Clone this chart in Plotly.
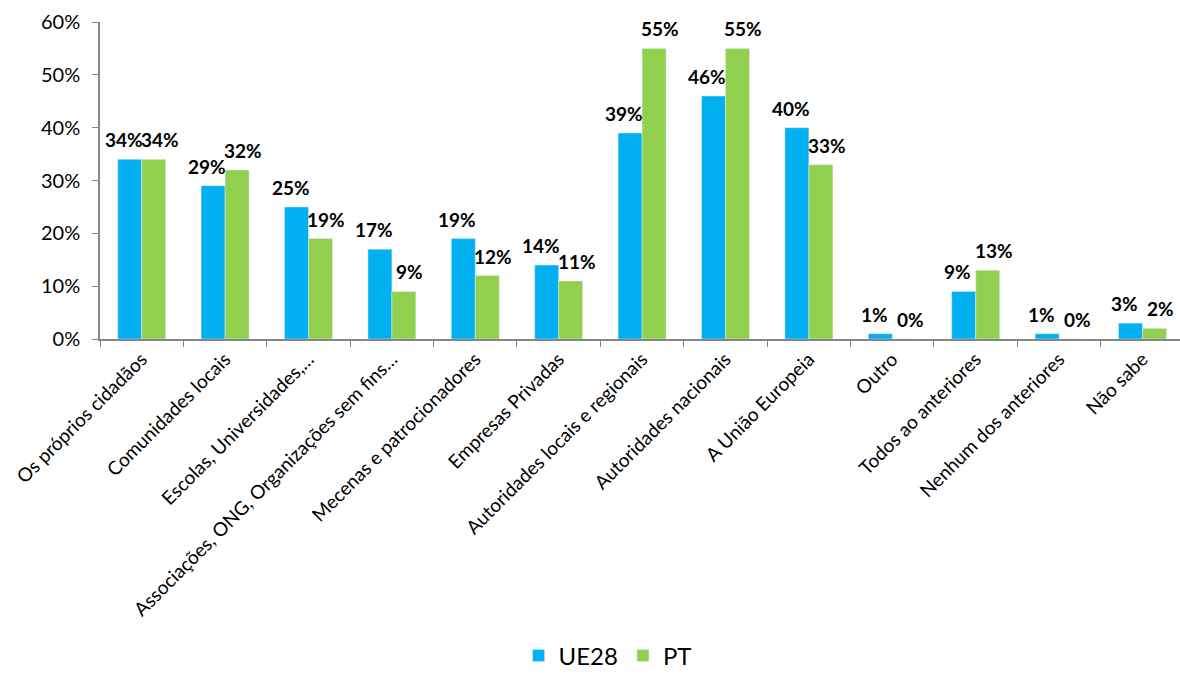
import plotly.graph_objects as go

categories = [
    "Os próprios cidadãos",
    "Comunidades locais",
    "Escolas, Universidades,…",
    "Associações, ONG, Organizações sem fins…",
    "Mecenas e patrocionadores",
    "Empresas Privadas",
    "Autoridades locais e regionais",
    "Autoridades nacionais",
    "A União Europeia",
    "Outro",
    "Todos ao anteriores",
    "Nenhum dos anteriores",
    "Não sabe",
]
ue28 = [34, 29, 25, 17, 19, 14, 39, 46, 40, 1, 9, 1, 3]
pt = [34, 32, 19, 9, 12, 11, 55, 55, 33, 0, 13, 0, 2]
y_ticks = [0, 10, 20, 30, 40, 50, 60]

BLUE = "#00B0F0"
GREEN = "#92D050"
FONT = "Lato, 'Open Sans', sans-serif"

fig = go.Figure()
fig.add_trace(go.Bar(name="UE28", x=categories, y=ue28, marker_color=BLUE))
fig.add_trace(go.Bar(name="PT", x=categories, y=pt, marker_color=GREEN))

# value labels above each bar, nudged apart a little
bar_w = 0.2875
for i, cat in enumerate(categories):
    for vals, dx, nudge in ((ue28, -bar_w / 2, -6), (pt, bar_w / 2, 6)):
        fig.add_annotation(
            x=i + dx, y=vals[i], xref="x", yref="y",
            text=f"<b>{vals[i]}%</b>", showarrow=False,
            yanchor="bottom", yshift=6, xshift=nudge,
            font=dict(family=FONT, size=19, color="black"),
        )

fig.update_layout(
    width=1180, height=679,
    margin=dict(l=100, r=0, t=22, b=340),
    paper_bgcolor="white", plot_bgcolor="white",
    barmode="group", bargap=0.425, bargroupgap=0,
    font=dict(family=FONT, size=16, color="black"),
    legend=dict(
        orientation="h", x=0.47, xanchor="center", y=-1.0, yanchor="middle",
        font=dict(size=24), itemwidth=30, traceorder="normal",
    ),
    showlegend=True,
)
fig.update_xaxes(
    type="category", range=[-0.5, 12.45],
    tickangle=-45, tickson="boundaries", ticks="outside", ticklen=6,
    tickcolor="#868686", showline=True, linecolor="#868686", linewidth=1.5,
    showgrid=False, tickfont=dict(size=19),
)
fig.update_yaxes(
    range=[0, 60], tickvals=y_ticks, ticktext=[f"{v}%" for v in y_ticks],
    ticks="outside", ticklen=6, tickcolor="#868686", ticklabelstandoff=8,
    showline=True, linecolor="#868686", linewidth=1.5,
    showgrid=False, zeroline=False, tickfont=dict(size=20),
)

fig.write_html("out.html")
